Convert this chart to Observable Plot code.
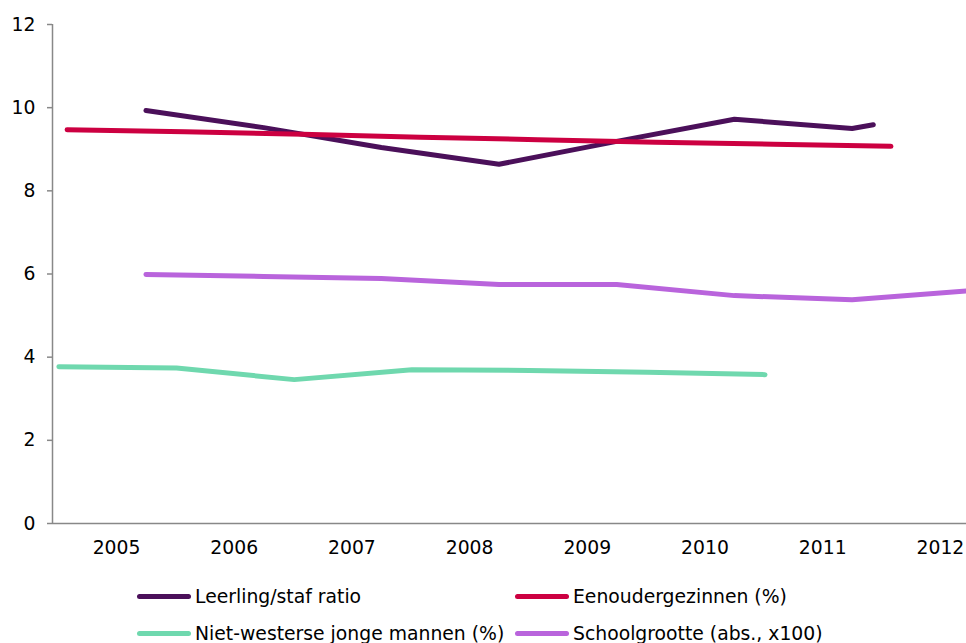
<!DOCTYPE html>
<html>
<head>
<meta charset="utf-8">
<script src="https://cdn.jsdelivr.net/npm/d3@7"></script>
<script src="https://cdn.jsdelivr.net/npm/@observablehq/plot@0.6"></script>
<style>
  html, body { margin: 0; padding: 0; background: #fff; overflow: hidden; }
  #wrap { position: relative; width: 966px; height: 643px; font-family: "DejaVu Sans", Verdana, sans-serif; }
  .leg { position: absolute; display: flex; align-items: center; font-size: 18.8px; color: #000; white-space: nowrap; }
  .sw { width: 54px; height: 5px; border-radius: 3px; margin-right: 4px; }
</style>
</head>
<body>
<div id="wrap"></div>
<script>
// Data (fractional year positions as drawn)
const seriesNames = ["Leerling/staf ratio", "Eenoudergezinnen (%)", "Niet-westerse jonge mannen (%)", "Schoolgrootte (abs., x100)"];
const seriesColors = ["#4b105a", "#cc0041", "#6fd8ae", "#b964dc"];

const leerlingX = [2005.25, 2006.25, 2007.25, 2008.25, 2009.25, 2010.25, 2011.25, 2011.43];
const leerlingY = [9.93, 9.52, 9.04, 8.64, 9.19, 9.72, 9.50, 9.59];

const eenouderX = [2004.58, 2005.58, 2006.58, 2007.58, 2008.58, 2009.58, 2010.58, 2011.58];
const eenouderY = [9.47, 9.42, 9.36, 9.29, 9.23, 9.17, 9.12, 9.07];

const nietWestX = [2004.51, 2005.51, 2006.51, 2007.51, 2008.51, 2009.51, 2010.51];
const nietWestY = [3.77, 3.74, 3.46, 3.70, 3.68, 3.64, 3.58];

const schoolX = [2005.25, 2006.25, 2007.25, 2008.25, 2009.25, 2010.25, 2011.25, 2012.25];
const schoolY = [5.99, 5.94, 5.89, 5.75, 5.75, 5.48, 5.38, 5.60];

const yTicks = [0, 2, 4, 6, 8, 10, 12];
const xTicks = [2005, 2006, 2007, 2008, 2009, 2010, 2011, 2012];
const xDomain = [2004.456, 2012.222];
const yDomain = [0, 12];

const toRows = (xs, ys, name) => xs.map((x, i) => ({x, y: ys[i], series: name}));
const rows = [
  ...toRows(leerlingX, leerlingY, seriesNames[0]),
  ...toRows(eenouderX, eenouderY, seriesNames[1]),
  ...toRows(nietWestX, nietWestY, seriesNames[2]),
  ...toRows(schoolX, schoolY, seriesNames[3])
];

const chart = Plot.plot({
  width: 966,
  height: 560,
  marginLeft: 52,
  marginRight: 0,
  marginTop: 24,
  marginBottom: 37,
  style: { fontFamily: "DejaVu Sans, Verdana, sans-serif", fontSize: "18.8px", color: "#000", background: "#fff" },
  x: { domain: xDomain, label: null },
  y: { domain: yDomain, label: null },
  color: { domain: seriesNames, range: seriesColors },
  marks: [
    Plot.ruleX([xDomain[0]], { stroke: "#888", strokeWidth: 1.5 }),
    Plot.ruleY([yDomain[0]], { stroke: "#888", strokeWidth: 1.5 }),
    Plot.axisY({ ticks: yTicks, tickSize: 5, tickPadding: 12, stroke: "#888", strokeWidth: 1.5, tickFormat: d => String(d), fill: "#000", fontSize: 18.8 }),
    Plot.axisX({ ticks: xTicks, tickSize: 0, tickPadding: 17, tickFormat: d => String(d), fill: "#000", fontSize: 18.8 }),
    Plot.line(rows, { x: "x", y: "y", z: "series", stroke: "series", strokeWidth: 5, strokeLinecap: "round", strokeLinejoin: "round", clip: true })
  ]
});

const wrap = document.getElementById("wrap");
chart.style.position = "absolute";
chart.style.left = "0px";
chart.style.top = "0px";
wrap.appendChild(chart);

const legendPos = [
  {left: 137, top: 586},
  {left: 515, top: 586},
  {left: 137, top: 623},
  {left: 515, top: 623}
];
seriesNames.forEach((name, i) => {
  const d = document.createElement("div");
  d.className = "leg";
  d.style.left = legendPos[i].left + "px";
  d.style.top = legendPos[i].top + "px";
  const s = document.createElement("span");
  s.className = "sw";
  s.style.background = seriesColors[i];
  const t = document.createElement("span");
  t.textContent = name;
  d.appendChild(s);
  d.appendChild(t);
  wrap.appendChild(d);
});
</script>
</body>
</html>
